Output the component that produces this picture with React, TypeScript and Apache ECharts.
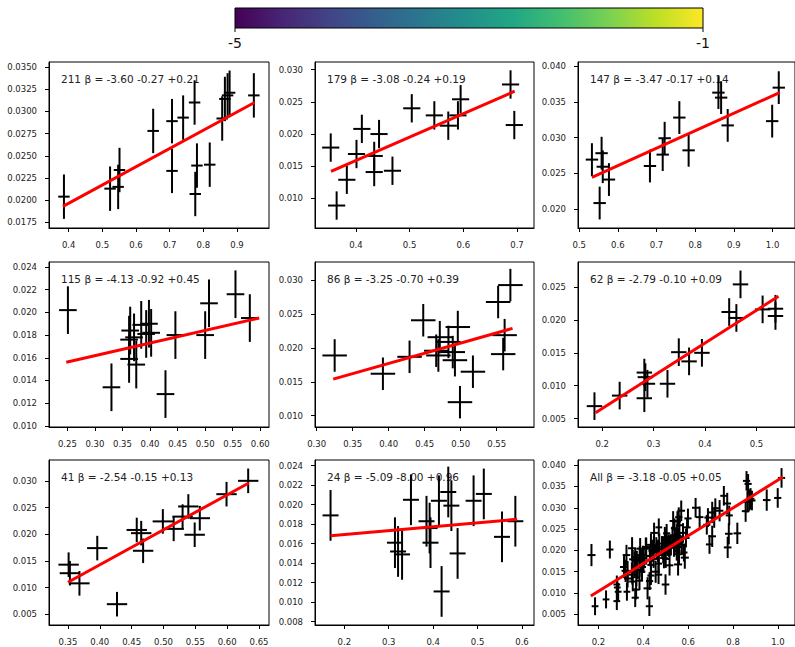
import React, { useEffect, useRef } from 'react';
import * as echarts from 'echarts';

// ---------- data ----------
const PANEL_NAMES = ['211', '179', '147', '115', '86', '62', '41', '24', 'All'];
const PANEL_BETAS = [
  '-3.60 -0.27 +0.21',
  '-3.08 -0.24 +0.19',
  '-3.47 -0.17 +0.14',
  '-4.13 -0.92 +0.45',
  '-3.25 -0.70 +0.39',
  '-2.79 -0.10 +0.09',
  '-2.54 -0.15 +0.13',
  '-5.09 -8.00 +0.96',
  '-3.18 -0.05 +0.05',
];

const P211 = [
  [0.386, 0.0204], [0.523, 0.0213], [0.547, 0.0215], [0.551, 0.0234], [0.651, 0.0278],
  [0.707, 0.0289], [0.707, 0.0233], [0.740, 0.0293], [0.774, 0.0310], [0.776, 0.0207],
  [0.781, 0.0239], [0.819, 0.0240], [0.856, 0.0292], [0.864, 0.0314], [0.872, 0.0318],
  [0.878, 0.0321], [0.950, 0.0318],
];
const P179 = [
  [0.353, 0.0179], [0.364, 0.0089], [0.383, 0.0129], [0.401, 0.0169], [0.411, 0.0208],
  [0.434, 0.0166], [0.434, 0.0141], [0.443, 0.0200], [0.468, 0.0143], [0.504, 0.0240],
  [0.546, 0.0229], [0.572, 0.0213], [0.590, 0.0229], [0.595, 0.0254], [0.688, 0.0277],
  [0.695, 0.0214],
];
const P147 = [
  [0.533, 0.0269], [0.553, 0.0208], [0.558, 0.0278], [0.561, 0.0259], [0.577, 0.0241],
  [0.683, 0.0260], [0.716, 0.0276], [0.721, 0.0299], [0.759, 0.0328], [0.783, 0.0282],
  [0.860, 0.0363], [0.867, 0.0356], [0.884, 0.0317], [0.999, 0.0323], [1.016, 0.0370],
];
const P115 = [
  [0.251, 0.0202], [0.330, 0.0134], [0.364, 0.0184], [0.362, 0.0176], [0.362, 0.0159],
  [0.371, 0.0178], [0.375, 0.0154], [0.384, 0.0189], [0.393, 0.0181], [0.398, 0.0190],
  [0.402, 0.0182], [0.428, 0.0128], [0.446, 0.0180], [0.500, 0.0180], [0.507, 0.0208],
  [0.555, 0.0216], [0.581, 0.0195],
];
const P86 = [
  [0.325, 0.0189], [0.392, 0.0162], [0.429, 0.0187], [0.448, 0.0241], [0.471, 0.0216],
  [0.469, 0.0189], [0.466, 0.0196], [0.483, 0.0209], [0.489, 0.0194], [0.492, 0.0182],
  [0.496, 0.0231], [0.499, 0.0120], [0.517, 0.0165], [0.552, 0.0268], [0.569, 0.0293],
  [0.561, 0.0219], [0.559, 0.0191],
];
const P62 = [
  [0.185, 0.0069], [0.234, 0.0085], [0.282, 0.0120], [0.284, 0.0113], [0.288, 0.0103],
  [0.282, 0.0081], [0.327, 0.0103], [0.349, 0.0151], [0.369, 0.0137], [0.394, 0.0150],
  [0.447, 0.0212], [0.461, 0.0203], [0.469, 0.0254], [0.512, 0.0216], [0.537, 0.0217],
  [0.537, 0.0206],
];
const P41 = [
  [0.351, 0.0143], [0.353, 0.0127], [0.368, 0.0108], [0.396, 0.0174], [0.427, 0.0069],
  [0.458, 0.0208], [0.465, 0.0202], [0.468, 0.0169], [0.499, 0.0224], [0.516, 0.0210],
  [0.530, 0.0233], [0.539, 0.0252], [0.549, 0.0199], [0.557, 0.0230], [0.599, 0.0275],
  [0.633, 0.0300],
];
const P24 = [
  [0.169, 0.0189], [0.314, 0.0161], [0.321, 0.0152], [0.330, 0.0149], [0.350, 0.0205],
  [0.385, 0.0183], [0.394, 0.0161], [0.392, 0.0176], [0.413, 0.0204], [0.419, 0.0111],
  [0.434, 0.0213], [0.441, 0.0199], [0.455, 0.0150], [0.491, 0.0204], [0.514, 0.0211],
  [0.555, 0.0167], [0.585, 0.0183],
];
const GROUP_POINTS = [P211, P179, P147, P115, P86, P62, P41, P24];
const X_ERR = [0.017, 0.016, 0.016, 0.016, 0.017, 0.015, 0.016, 0.018];
const Y_ERR = [0.0025, 0.0022, 0.0023, 0.0021, 0.0024, 0.0021, 0.0023, 0.0026];

const FIT_LINES = [
  [[0.383, 0.0193], [0.952, 0.0310]],
  [[0.3535, 0.0142], [0.6957, 0.02665]],
  [[0.533, 0.0244], [1.018, 0.0363]],
  [[0.248, 0.0156], [0.598, 0.0195]],
  [[0.323, 0.0154], [0.572, 0.0229]],
  [[0.187, 0.0059], [0.543, 0.0236]],
  [[0.350, 0.0110], [0.634, 0.0296]],
  [[0.169, 0.0168], [0.589, 0.0185]],
  [[0.166, 0.0093], [1.022, 0.0372]],
];

// tick labels per panel
const X_TICKS = [
  ['0.4', '0.5', '0.6', '0.7', '0.8', '0.9'],
  ['0.4', '0.5', '0.6', '0.7'],
  ['0.5', '0.6', '0.7', '0.8', '0.9', '1.0'],
  ['0.25', '0.30', '0.35', '0.40', '0.45', '0.50', '0.55', '0.60'],
  ['0.30', '0.35', '0.40', '0.45', '0.50', '0.55'],
  ['0.2', '0.3', '0.4', '0.5'],
  ['0.35', '0.40', '0.45', '0.50', '0.55', '0.60', '0.65'],
  ['0.2', '0.3', '0.4', '0.5', '0.6'],
  ['0.2', '0.4', '0.6', '0.8', '1.0'],
];
const Y_TICKS = [
  ['0.0175', '0.0200', '0.0225', '0.0250', '0.0275', '0.0300', '0.0325', '0.0350'],
  ['0.010', '0.015', '0.020', '0.025', '0.030'],
  ['0.020', '0.025', '0.030', '0.035', '0.040'],
  ['0.010', '0.012', '0.014', '0.016', '0.018', '0.020', '0.022', '0.024'],
  ['0.010', '0.015', '0.020', '0.025', '0.030'],
  ['0.005', '0.010', '0.015', '0.020', '0.025'],
  ['0.005', '0.010', '0.015', '0.020', '0.025', '0.030'],
  ['0.008', '0.010', '0.012', '0.014', '0.016', '0.018', '0.020', '0.022', '0.024'],
  ['0.005', '0.010', '0.015', '0.020', '0.025', '0.030', '0.035', '0.040'],
];
const X_RANGE = [
  [0.3416, 0.995], [0.3237, 0.7317], [0.497, 1.058],
  [0.2167, 0.6158], [0.2977, 0.6018], [0.153, 0.575],
  [0.3202, 0.6657], [0.134, 0.627], [0.109, 1.076],
];
const Y_RANGE = [
  [0.01687, 0.03556], [0.00541, 0.03119], [0.0173, 0.0406],
  [0.0099, 0.02444], [0.00833, 0.03271], [0.00373, 0.0288],
  [0.003, 0.0339], [0.00766, 0.02458], [0.0025, 0.0412],
];

const COLORBAR_TICKS = ['-5', '-1'];

// ---------- layout ----------
const COL_LEFT = [49, 315, 578];
const COL_W = [220, 219, 219];
const ROW_TOP = [62, 262, 460];
const ROW_H = [166, 165, 165];
const FONT = 'DejaVu Sans';

const VIRIDIS = ['#440154', '#482475', '#414487', '#355f8d', '#2a788e', '#21918c', '#22a884', '#44bf70', '#7ad151', '#bddf26', '#fde725'];

export default function App() {
  const ref = useRef<HTMLDivElement>(null);
  useEffect(() => {
    const chart = echarts.init(ref.current!, null, { renderer: 'svg' });

    const grids: any[] = [];
    const xAxes: any[] = [];
    const yAxes: any[] = [];
    const series: any[] = [];
    const graphics: any[] = [];

    const panelData: number[][][] = GROUP_POINTS.map((pts, g) =>
      pts.map(([x, y]) => [x, y, X_ERR[g], Y_ERR[g]])
    );
    panelData.push(panelData.reduce((acc, d) => acc.concat(d), [] as number[][]));

    for (let i = 0; i < 9; i++) {
      const col = i % 3;
      const row = Math.floor(i / 3);
      const left = COL_LEFT[col];
      const top = ROW_TOP[row];
      const w = COL_W[col];
      const h = ROW_H[row];
      grids.push({
        left, top, width: w, height: h,
        show: true, borderColor: '#000', borderWidth: 1, backgroundColor: 'transparent',
        containLabel: false,
      });
      const xt = X_TICKS[i];
      const yt = Y_TICKS[i];
      const xd = xt[0].split('.')[1].length;
      const yd = yt[0].split('.')[1].length;
      const axisCommon = {
        type: 'value',
        splitLine: { show: false },
        axisLine: { show: true, onZero: false, lineStyle: { color: '#000', width: 1 } },
      };
      xAxes.push({
        ...axisCommon,
        gridIndex: i,
        min: X_RANGE[i][0], max: X_RANGE[i][1],
        axisTick: { show: true, length: 4, lineStyle: { color: '#000' }, customValues: xt.map(Number) },
        axisLabel: {
          customValues: xt.map(Number),
          formatter: (v: number) => v.toFixed(xd),
          fontSize: 8.5, fontFamily: FONT, color: '#222', margin: 12,
        },
      });
      yAxes.push({
        ...axisCommon,
        gridIndex: i,
        min: Y_RANGE[i][0], max: Y_RANGE[i][1],
        axisTick: { show: true, length: 4, lineStyle: { color: '#000' }, customValues: yt.map(Number) },
        axisLabel: {
          customValues: yt.map(Number),
          formatter: (v: number) => v.toFixed(yd),
          fontSize: 8.5, fontFamily: FONT, color: '#222', margin: 12,
        },
      });
      series.push({
        type: 'custom',
        xAxisIndex: i, yAxisIndex: i,
        z: 3,
        data: panelData[i],
        encode: { x: 0, y: 1 },
        renderItem: (_p: any, api: any) => {
          const x = api.value(0), y = api.value(1), ex = api.value(2), ey = api.value(3);
          const l = api.coord([x - ex, y]);
          const r = api.coord([x + ex, y]);
          const t = api.coord([x, y + ey]);
          const b = api.coord([x, y - ey]);
          const st = { stroke: '#000', lineWidth: 2 };
          return {
            type: 'group',
            children: [
              { type: 'line', shape: { x1: l[0], y1: l[1], x2: r[0], y2: r[1] }, style: st },
              { type: 'line', shape: { x1: t[0], y1: t[1], x2: b[0], y2: b[1] }, style: st },
            ],
          };
        },
      });
      series.push({
        type: 'line',
        xAxisIndex: i, yAxisIndex: i,
        z: 4,
        data: FIT_LINES[i],
        symbol: 'none',
        showSymbol: false,
        lineStyle: { color: '#ff0000', width: 3 },
        silent: true,
      });
      graphics.push({
        type: 'text',
        z: 0,
        x: left + 0.05 * w + 1,
        y: top + 0.1 * h,
        style: {
          text: `${PANEL_NAMES[i]} β = ${PANEL_BETAS[i]}`,
          fontSize: 10.5,
          fontFamily: FONT,
          fill: '#222',
          verticalAlign: 'middle',
          align: 'left',
        },
      });
    }

    // colorbar
    const cbX = 235, cbY = 8, cbW = 468, cbH = 20;
    graphics.push({
      type: 'rect',
      z: 0,
      shape: { x: cbX, y: cbY, width: cbW, height: cbH },
      style: {
        fill: new echarts.graphic.LinearGradient(0, 0, 1, 0,
          VIRIDIS.map((c, k) => ({ offset: k / (VIRIDIS.length - 1), color: c }))),
        stroke: '#000',
        lineWidth: 1,
      },
    });
    COLORBAR_TICKS.forEach((t, k) => {
      const tx = k === 0 ? cbX : cbX + cbW;
      graphics.push({
        type: 'line', z: 0,
        shape: { x1: tx, y1: cbY + cbH, x2: tx, y2: cbY + cbH + 4 },
        style: { stroke: '#000', lineWidth: 1 },
      });
      graphics.push({
        type: 'text', z: 0,
        x: tx, y: 43,
        style: { text: t, fontSize: 14, fontFamily: FONT, fill: '#111', align: 'center', verticalAlign: 'middle' },
      });
    });

    chart.setOption({
      animation: false,
      backgroundColor: '#fff',
      grid: grids,
      xAxis: xAxes,
      yAxis: yAxes,
      series,
      graphic: { elements: graphics },
    });
    return () => chart.dispose();
  }, []);
  return <div ref={ref} style={{ position: 'absolute', left: 0, top: 0, width: 795, height: 647 }} />;
}
